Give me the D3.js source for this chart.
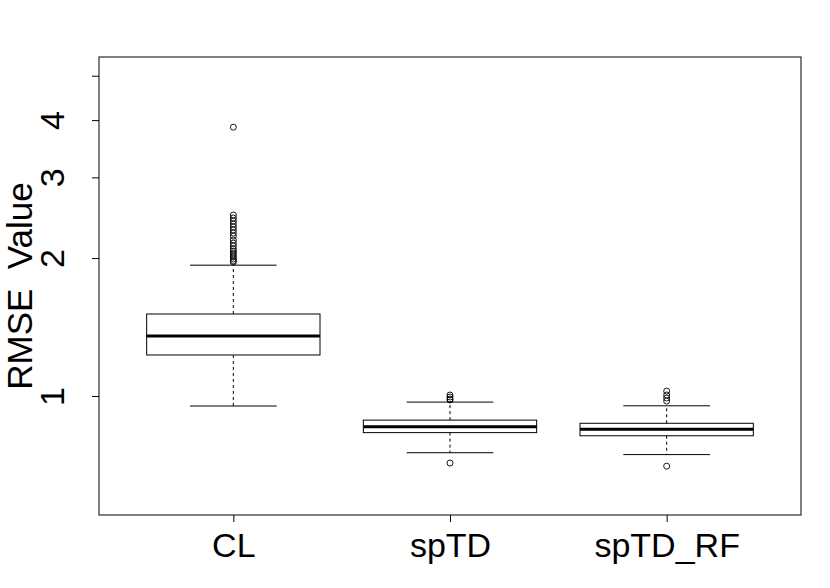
<!DOCTYPE html>
<html>
<head>
<meta charset="utf-8">
<script src="https://cdn.jsdelivr.net/npm/d3@7"></script>
<style>
  body { margin: 0; background: #fff; }
  text { font-family: "Liberation Sans", Arial, sans-serif; }
</style>
</head>
<body>
<script>
// boxplot stats (log scale axis)
var groups = ["CL", "spTD", "spTD_RF"];
var whiskerLow = [0.951, 0.752, 0.745];
var q1 = [1.229, 0.832, 0.819];
var medians = [1.352, 0.857, 0.846];
var q3 = [1.51, 0.886, 0.872];
var whiskerHigh = [1.93, 0.970, 0.952];
var outliersCL = [3.86, 2.483, 2.446, 2.409, 2.373, 2.338, 2.303, 2.268, 2.234, 2.19,
  2.157, 2.125, 2.093, 2.072, 2.051, 2.031, 2.011, 1.991, 1.971, 1.961];
var outliersSpTD = [1.005, 0.995, 0.985, 0.98, 0.714];
var outliersSpTDRF = [1.025, 1.005, 0.99, 0.975, 0.703];
var yTicks = [1, 2, 3, 4, 5];
var yTickLabels = ["1", "2", "3", "4", ""];

var outliers = [outliersCL, outliersSpTD, outliersSpTDRF];

var width = 830, height = 588;
var pLeft = 99, pRight = 801, pTop = 57, pBottom = 515;

var svg = d3.select("body").append("svg")
  .attr("width", width)
  .attr("height", height);

var x = d3.scaleLinear().domain([0.38, 3.62]).range([pLeft, pRight]);
var y = d3.scaleLog().domain([0.55, 5.493]).range([pBottom, pTop]);
var bw = x(1.4) - x(1);

var stats = groups.map(function(g, i) {
  return { name: g, pos: i + 1, lo: whiskerLow[i], q1: q1[i], med: medians[i],
    q3: q3[i], hi: whiskerHigh[i], out: outliers[i] };
});

var g = svg.selectAll("g.box").data(stats).join("g").attr("class", "box");

// dashed whiskers
g.append("line")
  .attr("x1", d => x(d.pos)).attr("x2", d => x(d.pos))
  .attr("y1", d => y(d.q3)).attr("y2", d => y(d.hi))
  .attr("stroke", "#000").attr("stroke-dasharray", "3,3");
g.append("line")
  .attr("x1", d => x(d.pos)).attr("x2", d => x(d.pos))
  .attr("y1", d => y(d.q1)).attr("y2", d => y(d.lo))
  .attr("stroke", "#000").attr("stroke-dasharray", "3,3");

// staples
g.selectAll("line.staple").data(d => [d.lo, d.hi].map(v => ({ pos: d.pos, v: v })))
  .join("line").attr("class", "staple")
  .attr("x1", d => x(d.pos) - bw / 2).attr("x2", d => x(d.pos) + bw / 2)
  .attr("y1", d => y(d.v)).attr("y2", d => y(d.v))
  .attr("stroke", "#000");

g.append("rect")
  .attr("x", d => x(d.pos) - bw)
  .attr("width", bw * 2)
  .attr("y", d => y(d.q3))
  .attr("height", d => y(d.q1) - y(d.q3))
  .attr("fill", "none").attr("stroke", "#000");

g.append("line")
  .attr("x1", d => x(d.pos) - bw).attr("x2", d => x(d.pos) + bw)
  .attr("y1", d => y(d.med)).attr("y2", d => y(d.med))
  .attr("stroke", "#000").attr("stroke-width", 3);

g.selectAll("circle").data(d => d.out.map(v => ({ pos: d.pos, v: v })))
  .join("circle")
  .attr("cx", d => x(d.pos)).attr("cy", d => y(d.v)).attr("r", 3)
  .attr("fill", "none").attr("stroke", "#000").attr("stroke-width", 0.9);

// frame
svg.append("rect")
  .attr("x", pLeft).attr("y", pTop)
  .attr("width", pRight - pLeft).attr("height", pBottom - pTop)
  .attr("fill", "none").attr("stroke", "#000");

// y axis
var yAxis = d3.axisLeft(y).tickValues(yTicks)
  .tickFormat((d, i) => yTickLabels[i]).tickSize(7).tickPadding(0);
var ya = svg.append("g").attr("transform", "translate(" + pLeft + ",0)").call(yAxis);
ya.select(".domain").remove();
ya.selectAll(".tick text")
  .attr("font-size", 34).attr("font-family", "Liberation Sans")
  .attr("fill", "#000")
  .attr("x", null).attr("dy", null)
  .attr("text-anchor", "middle")
  .attr("transform", "translate(-35,0) rotate(-90)");

// x axis
var xAxis = d3.axisBottom(x).tickValues([1, 2, 3])
  .tickFormat((d, i) => groups[i]).tickSize(7).tickPadding(0);
var xa = svg.append("g").attr("transform", "translate(0," + pBottom + ")").call(xAxis);
xa.select(".domain").remove();
xa.selectAll(".tick text")
  .attr("font-size", 34).attr("font-family", "Liberation Sans")
  .attr("fill", "#000").attr("dy", null).attr("y", 42);

svg.append("text")
  .attr("transform", "translate(32," + (pTop + pBottom) / 2 + ") rotate(-90)")
  .attr("text-anchor", "middle")
  .attr("font-size", 35)
  .style("white-space", "pre")
  .text("RMSE  Value");
</script>
</body>
</html>
